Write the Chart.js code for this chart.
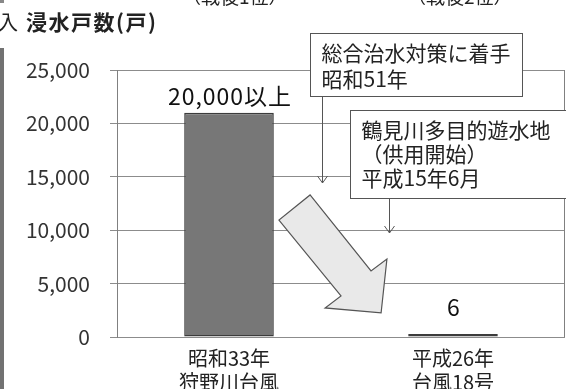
<!DOCTYPE html>
<html>
<head>
<meta charset="utf-8">
<script src="https://cdn.jsdelivr.net/npm/chart.js@4/dist/chart.umd.min.js"></script>
<style>
  html, body { margin: 0; padding: 0; background: #fff; }
  #wrap { width: 566px; height: 389px; }
</style>
</head>
<body>
<div id="wrap"><canvas id="chart" width="566" height="389"></canvas></div>
<script>
const FONT = '"Noto Sans CJK JP", "Noto Sans", sans-serif';

// flooded houses by typhoon
const categories = [['昭和33年', '狩野川台風'], ['平成26年', '台風18号']];
const houses = [21000, 6];
const valueLabels = ['20,000以上', '6'];
const yMax = 25000;
const yStep = 5000;

const notes = [
  { lines: ['総合治水対策に着手', '昭和51年'] },
  { lines: ['鶴見川多目的遊水地', '（供用開始）', '平成15年6月'] }
];

function arrowLine(ctx, x, y0, y1) {
  ctx.beginPath();
  ctx.moveTo(x, y0);
  ctx.lineTo(x, y1);
  ctx.moveTo(x - 5, y1 - 7);
  ctx.lineTo(x, y1);
  ctx.lineTo(x + 5, y1 - 7);
  ctx.stroke();
}

const decor = {
  id: 'decor',
  beforeDraw(chart) {
    const ctx = chart.ctx;
    ctx.save();
    // strip from the neighbouring panel
    ctx.fillStyle = '#727272';
    ctx.fillRect(0, 48, 4, 341);
    ctx.fillStyle = '#888';
    ctx.fillRect(0, 0, 4, 3);
    // text cut off at the top
    ctx.fillStyle = '#222';
    ctx.font = '19px ' + FONT;
    ctx.textBaseline = 'alphabetic';
    ctx.textAlign = 'left';
    ctx.fillText('（戦後1位）', 182, 4);
    ctx.fillText('（戦後2位）', 407, 4);
    ctx.font = '20px ' + FONT;
    ctx.textBaseline = 'middle';
    ctx.fillText('入', -2, 22);
    ctx.font = 'bold 21px ' + FONT;
    ctx.letterSpacing = '1.5px';
    ctx.fillText('浸水戸数(戸)', 26, 22);
    ctx.letterSpacing = '0px';
    ctx.restore();
  },
  afterDatasetsDraw(chart) {
    const ctx = chart.ctx;
    const area = chart.chartArea;
    const meta = chart.getDatasetMeta(0);
    ctx.save();
    // right edge of the plot box
    ctx.strokeStyle = '#808080';
    ctx.lineWidth = 1;
    ctx.beginPath();
    ctx.moveTo(area.right - 0.5, area.top);
    ctx.lineTo(area.right - 0.5, area.bottom);
    ctx.stroke();

    // value labels above the bars
    const offsets = [16, 27];
    ctx.fillStyle = '#111';
    ctx.font = '23px ' + FONT;
    ctx.letterSpacing = '1px';
    ctx.textAlign = 'center';
    ctx.textBaseline = 'middle';
    meta.data.forEach((bar, i) => {
      ctx.fillText(valueLabels[i], bar.x + 1, bar.y - offsets[i]);
    });
    ctx.letterSpacing = '0px';

    // big downward arrow between the two bars
    const x = chart.scales.x, y = chart.scales.y;
    const x0 = x.getPixelForValue(0), dx = x.getPixelForValue(1) - x0;
    const pts = [[0.362, 13300], [0.634, 6180], [0.705, 7300], [0.679, 2250],
                 [0.429, 2720], [0.5, 3840], [0.223, 10950]];
    ctx.beginPath();
    pts.forEach((p, i) => {
      const px = x0 + p[0] * dx, py = y.getPixelForValue(p[1]);
      if (i === 0) ctx.moveTo(px, py); else ctx.lineTo(px, py);
    });
    ctx.closePath();
    ctx.fillStyle = '#e9e9e9';
    ctx.fill();
    ctx.strokeStyle = '#555';
    ctx.lineWidth = 1.2;
    ctx.stroke();
    ctx.restore();
  },
  afterDraw(chart) {
    const ctx = chart.ctx;
    ctx.save();
    ctx.font = '21px ' + FONT;
    ctx.textAlign = 'left';
    ctx.textBaseline = 'middle';
    ctx.lineWidth = 1;
    ctx.strokeStyle = '#555';

    // note boxes with pointer arrows
    const boxes = [
      { x: 310.5, y: 33.5, w: 212, h: 63, lineY: 53, gap: 26, arrowX: 322.5, tip: 183 },
      { x: 350.5, y: 110.5, w: 225, h: 88, lineY: 130, gap: 24, arrowX: 389.5, tip: 233 }
    ];
    boxes.forEach((b, i) => {
      ctx.fillStyle = '#fff';
      ctx.fillRect(b.x, b.y, b.w, b.h);
      ctx.strokeRect(b.x, b.y, b.w, b.h);
      ctx.fillStyle = '#222';
      notes[i].lines.forEach((t, k) => ctx.fillText(t, b.x + 11, b.lineY + k * b.gap));
      arrowLine(ctx, b.arrowX, b.y + b.h, b.tip);
    });
    ctx.restore();
  }
};

new Chart(document.getElementById('chart'), {
  type: 'bar',
  data: {
    labels: categories,
    datasets: [{
      data: houses,
      backgroundColor: '#777777',
      borderColor: '#3c3c3c',
      borderWidth: 1.5,
      borderSkipped: false,
      minBarLength: 3,
      barPercentage: 0.4,
      categoryPercentage: 1.0
    }]
  },
  options: {
    responsive: false,
    animation: false,
    devicePixelRatio: 1,
    layout: { padding: { top: 70, right: 1, left: 0, bottom: 0 } },
    plugins: {
      legend: { display: false },
      tooltip: { enabled: false },
      title: { display: false }
    },
    scales: {
      x: {
        grid: { display: false },
        border: { display: false },
        ticks: {
          color: '#222',
          font: { family: FONT, size: 20, lineHeight: 1.18 },
          padding: 2,
          maxRotation: 0
        },
        afterFit(scale) { scale.height = 52; }
      },
      y: {
        min: 0,
        max: yMax,
        ticks: {
          stepSize: yStep,
          color: '#333',
          padding: 20,
          font: { family: FONT, size: 21 },
          callback: v => v.toLocaleString('en-US')
        },
        grid: { color: '#8c8c8c', tickLength: 7, tickColor: '#8c8c8c' },
        border: { display: true, color: '#808080' },
        afterFit(scale) { scale.width = 117; }
      }
    }
  },
  plugins: [decor]
});
</script>
</body>
</html>
